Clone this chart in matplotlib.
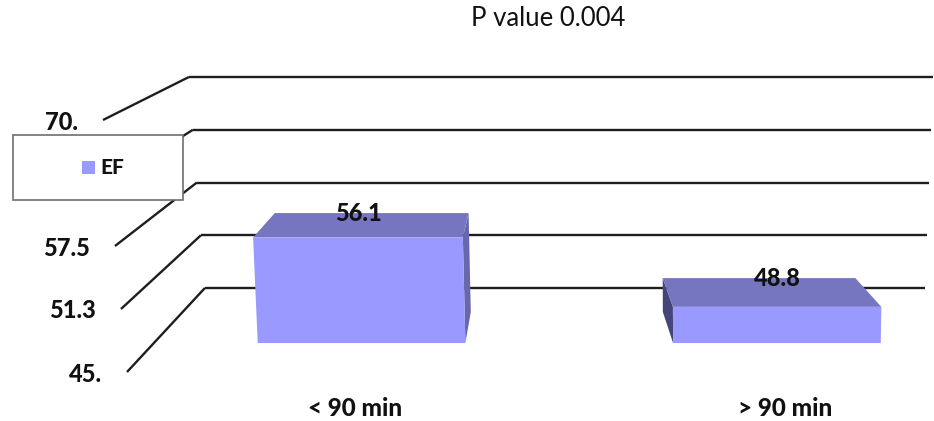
import matplotlib
matplotlib.use("Agg")
import matplotlib.pyplot as plt
from matplotlib.patches import Polygon, Rectangle

plt.rcParams["font.family"] = ["Lato", "DejaVu Sans"]

# ---- data -------------------------------------------------------------
title = "P value 0.004"
categories = ["< 90 min", "> 90 min"]
series_name = "EF"
ef_values = [56.1, 48.8]
value_labels = ["56.1", "48.8"]
tick_values = [45.0, 51.25, 57.5, 63.75, 70.0]
tick_labels = ["45.", "51.3", "57.5", "63.8", "70."]
y_min, y_max = 45.0, 70.0

# ---- 3-D perspective geometry (pixel space) ----------------------------
W, H = 934, 421
VP_X = 537.0            # horizontal vanishing point
SHRINK = 0.19           # horizontal shrink from front plane to back wall
FRONT_BOTTOM, FRONT_HEIGHT = 372.0, 252.0
BACK_BOTTOM, BACK_HEIGHT = 288.0, 211.0
LEAN_CENTER = 731.0
U_LEFT, U_RIGHT = 127.0, 1016.0   # category axis extent on the front plane
BAR_FRONT_Z, BAR_BACK_Z = 0.345, 0.715
BAR_WIDTH = 0.5                   # fraction of a category slot
LABEL_Z = 0.17


def frac(v):
    return (v - y_min) / (y_max - y_min)


def proj(u, v, z, lean=1.0):
    """Project (horizontal position u, value v, depth z) to pixel coords."""
    yf = FRONT_BOTTOM - frac(v) * FRONT_HEIGHT
    yb = BACK_BOTTOM - frac(v) * BACK_HEIGHT
    y = (1 - z) * yf + z * yb
    g = (0.00159 - 0.00053 * z) * lean
    x = VP_X + (u - VP_X) * (1 - SHRINK * z) + (u - LEAN_CENTER) * g * (v - y_min)
    return x, y


fig = plt.figure(figsize=(W / 100, H / 100), dpi=100)
ax = fig.add_axes([0, 0, 1, 1])
ax.set_xlim(0, W)
ax.set_ylim(H, 0)
ax.axis("off")

line_color = "#1e1e1e"
text_color = "#111111"
bold = 900

# back-wall gridlines and their side-wall diagonals
for v in tick_values:
    x0, y0 = proj(U_LEFT, v, 1.0)
    x1, y1 = proj(U_RIGHT, v, 1.0)
    xf, yf = proj(U_LEFT, v, 0.0)
    ax.plot([x0, x1], [y0, y1], color=line_color, lw=1.7, zorder=1,
            solid_capstyle="butt")
    ax.plot([xf, x0], [yf, y0], color=line_color, lw=1.7, zorder=1,
            solid_capstyle="butt")

# value axis tick labels at the front edge
for v, lab in zip(tick_values, tick_labels):
    xf, yf = proj(U_LEFT, v, 0.0)
    ax.text(xf - 25, yf + 2, lab, ha="right", va="center", fontsize=17,
            fontweight=bold, color=text_color, zorder=2)

# bars
front_c, top_c = "#9999ff", "#7676c0"
side_right_c, side_left_c = "#6767ab", "#45457a"
slot = (U_RIGHT - U_LEFT) / len(categories)
for i, (cat, val, lab) in enumerate(zip(categories, ef_values, value_labels)):
    uc = U_LEFT + (i + 0.5) * slot
    uL, uR = uc - BAR_WIDTH * slot / 2, uc + BAR_WIDTH * slot / 2
    zf, zb = BAR_FRONT_Z, BAR_BACK_Z
    P = lambda u, v, z: proj(u, v, z, lean=0.6)
    if uc < VP_X:
        side = [P(uR, y_min, zf), P(uR, y_min, zb), P(uR, val, zb), P(uR, val, zf)]
        sc = side_right_c
    else:
        side = [P(uL, y_min, zf), P(uL, y_min, zb), P(uL, val, zb), P(uL, val, zf)]
        sc = side_left_c
    top = [P(uL, val, zf), P(uR, val, zf), P(uR, val, zb), P(uL, val, zb)]
    front = [P(uL, y_min, zf), P(uR, y_min, zf), P(uR, val, zf), P(uL, val, zf)]
    ax.add_patch(Polygon(side, closed=True, facecolor=sc, edgecolor="none", zorder=3))
    ax.add_patch(Polygon(top, closed=True, facecolor=top_c, edgecolor="none", zorder=3))
    ax.add_patch(Polygon(front, closed=True, facecolor=front_c, edgecolor="none", zorder=4))

    lx, _ = P(uc, val, zf)
    _, ly = P(uc, val, zb)
    ax.text(lx, ly, lab, ha="center", va="center", fontsize=17,
            fontweight=bold, color=text_color, zorder=6)

    cx, _ = proj(uc, y_min, LABEL_Z)
    ax.text(cx, 408, cat, ha="center", va="center", fontsize=17.5,
            fontweight=bold, color=text_color, zorder=6)

# legend box
ax.add_patch(Rectangle((13, 135), 170, 65, facecolor="white",
                       edgecolor="#6e6e6e", lw=1.2, zorder=7))
ax.add_patch(Rectangle((82, 161), 13, 13, facecolor=front_c,
                       edgecolor="none", zorder=8))
ax.text(100, 168, series_name, ha="left", va="center", fontsize=15,
        fontweight=bold, color=text_color, zorder=8)

# title
ax.text(548, 19, title, ha="center", va="center", fontsize=18.5,
        color=text_color)

fig.savefig("out.png", dpi=100)
